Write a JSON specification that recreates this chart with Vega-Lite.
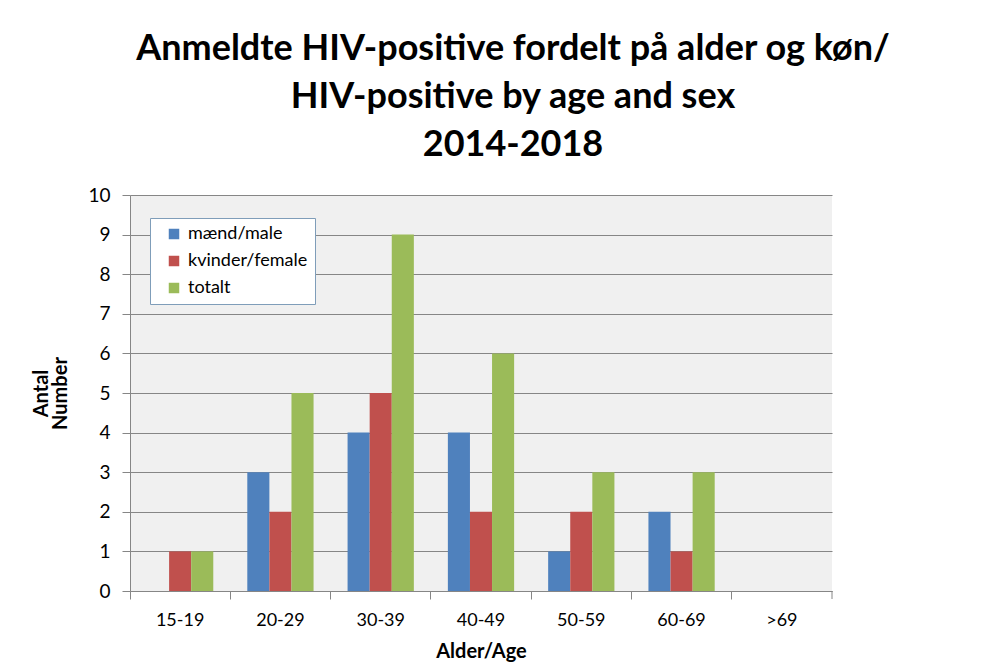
{
  "$schema": "https://vega.github.io/schema/vega-lite/v6.json",
  "autosize": {"type": "none"},
  "width": 702,
  "height": 396,
  "padding": {"left": 130, "top": 195, "right": 176, "bottom": 73},
  "background": "white",
  "title": {
    "text": ["Anmeldte HIV-positive fordelt på alder og køn/", "HIV-positive by age and sex", "2014-2018"],
    "font": "Lato",
    "fontSize": 36,
    "fontWeight": "bold",
    "color": "#000000",
    "anchor": "middle",
    "frame": "group",
    "dx": 32,
    "lineHeight": 48,
    "offset": 22
  },
  "data": {
    "values": [
      {"age": "15-19", "series": "mænd/male", "count": 0},
      {"age": "15-19", "series": "kvinder/female", "count": 1},
      {"age": "15-19", "series": "totalt", "count": 1},
      {"age": "20-29", "series": "mænd/male", "count": 3},
      {"age": "20-29", "series": "kvinder/female", "count": 2},
      {"age": "20-29", "series": "totalt", "count": 5},
      {"age": "30-39", "series": "mænd/male", "count": 4},
      {"age": "30-39", "series": "kvinder/female", "count": 5},
      {"age": "30-39", "series": "totalt", "count": 9},
      {"age": "40-49", "series": "mænd/male", "count": 4},
      {"age": "40-49", "series": "kvinder/female", "count": 2},
      {"age": "40-49", "series": "totalt", "count": 6},
      {"age": "50-59", "series": "mænd/male", "count": 1},
      {"age": "50-59", "series": "kvinder/female", "count": 2},
      {"age": "50-59", "series": "totalt", "count": 3},
      {"age": "60-69", "series": "mænd/male", "count": 2},
      {"age": "60-69", "series": "kvinder/female", "count": 1},
      {"age": "60-69", "series": "totalt", "count": 3},
      {"age": ">69", "series": "mænd/male", "count": 0},
      {"age": ">69", "series": "kvinder/female", "count": 0},
      {"age": ">69", "series": "totalt", "count": 0}
    ]
  },
  "encoding": {
    "x": {
      "field": "age",
      "type": "nominal",
      "sort": ["15-19", "20-29", "30-39", "40-49", "50-59", "60-69", ">69"],
      "scale": {"paddingInner": 0, "paddingOuter": 0},
      "axis": {
        "title": "Alder/Age",
        "titleFont": "Lato",
        "titleFontSize": 20,
        "titleFontWeight": "bold",
        "titleColor": "#000000",
        "titlePadding": 12,
        "labelAngle": 0,
        "labelFont": "Lato",
        "labelFontSize": 18,
        "labelColor": "#000000",
        "labelPadding": 12,
        "bandPosition": 0,
        "tickSize": 8,
        "tickColor": "#868686",
        "domainColor": "#868686",
        "grid": false
      }
    },
    "y": {
      "field": "count",
      "type": "quantitative",
      "scale": {"domain": [0, 10], "nice": false},
      "axis": {
        "title": ["Antal", "Number"],
        "titleFont": "Lato",
        "titleFontSize": 20,
        "titleFontWeight": "bold",
        "titleColor": "#000000",
        "titleLineHeight": 19,
        "titlePadding": 17,
        "values": [0, 1, 2, 3, 4, 5, 6, 7, 8, 9, 10],
        "labelFont": "Lato",
        "labelFontSize": 19,
        "labelColor": "#000000",
        "labelPadding": 12,
        "tickSize": 8,
        "tickColor": "#868686",
        "domainColor": "#868686",
        "grid": true,
        "gridColor": "#868686",
        "gridWidth": 1
      }
    }
  },
  "layer": [
    {
      "mark": {"type": "bar"},
      "encoding": {
        "xOffset": {
          "field": "series",
          "type": "nominal",
          "sort": ["mænd/male", "kvinder/female", "totalt"],
          "scale": {"paddingInner": 0, "paddingOuter": 0.77}
        },
        "color": {
          "field": "series",
          "type": "nominal",
          "sort": ["mænd/male", "kvinder/female", "totalt"],
          "scale": {
            "domain": ["mænd/male", "kvinder/female", "totalt"],
            "range": ["#4F81BD", "#C0504D", "#9BBB59"]
          },
          "legend": {
            "title": null,
            "orient": "none",
            "legendX": 20,
            "legendY": 23,
            "symbolType": "square",
            "symbolSize": 110,
            "symbolStrokeWidth": 0,
            "symbolOffset": 8,
            "labelFont": "Lato",
            "labelFontSize": 18,
            "labelColor": "#000000",
            "labelOffset": 5,
            "rowPadding": 9,
            "padding": 7,
            "fillColor": "white",
            "strokeColor": "#7F9DB9",
            "labelLimit": 200
          }
        }
      }
    },
    {
      "transform": [{"filter": "datum.age === '>69' && datum.series === 'totalt'"}],
      "mark": {"type": "rule", "color": "#868686", "strokeWidth": 1, "y2Offset": 8},
      "encoding": {
        "x": {"field": "age", "type": "nominal", "bandPosition": 1},
        "y2": {"field": "count"}
      }
    }
  ],
  "config": {
    "view": {"fill": "#F0F0F0", "stroke": null},
    "axis": {"domainWidth": 1, "tickWidth": 1}
  }
}
